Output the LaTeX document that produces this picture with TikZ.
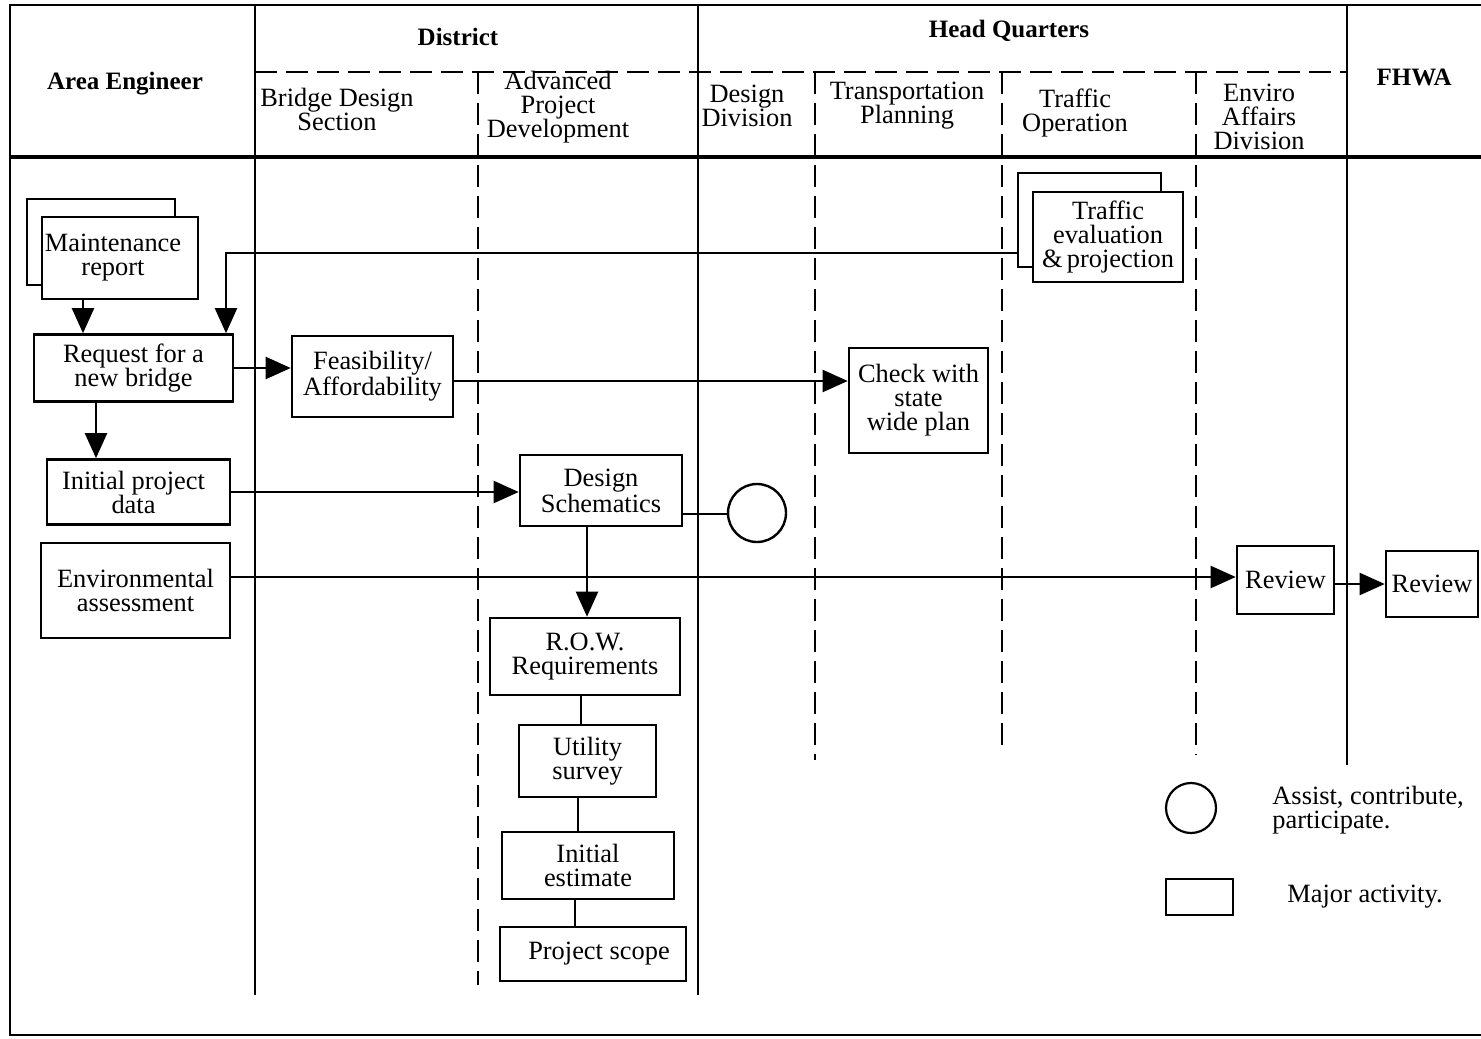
\documentclass[tikz,border=0pt]{standalone}
\usepackage{fontspec}
\setmainfont{Liberation Serif}
\usetikzlibrary{arrows.meta,calc}
\tikzset{
  box/.style={draw, line width=1.3pt, fill=white, align=center, inner sep=0pt},
  circ/.style={draw, circle, line width=1.2pt, fill=white, inner sep=0pt},
  arr/.style={line width=1.1pt, -{Triangle[length=12.5pt,width=11pt]}},
  con/.style={line width=1.1pt},
  solidcol/.style={line width=1.2pt},
  dashcol/.style={line width=1.2pt, dash pattern=on 11pt off 4.5pt},
  head/.style={font=\fontsize{12.5}{12}\selectfont\bfseries, align=center},
  sub/.style={align=center}
}
\begin{document}
\begin{tikzpicture}[x=0.5pt,y=-0.5pt, font=\fontsize{13.2}{12}\selectfont]
\useasboundingbox (0,0) rectangle (1481,1038);
% frame and lanes
\draw[line width=1.4pt] (1481,5) -- (10,5) -- (10,1035) -- (1481,1035);
\draw[line width=2.2pt] (10,157) -- (1481,157);
\draw[solidcol] (255,5) -- (255,995);
\draw[solidcol] (698,5) -- (698,995);
\draw[solidcol] (1347,5) -- (1347,765);
\draw[dashcol] (255,72) -- (1347,72);
\draw[dashcol] (478,72) -- (478,985);
\draw[dashcol] (815,72) -- (815,760);
\draw[dashcol] (1002,72) -- (1002,748);
\draw[dashcol] (1196,72) -- (1196,755);
% headers
\node[head] (hae) at (125,84) {Area Engineer};
\node[head] (hdist) at (458,37) {District};
\node[head] (hhq) at (1009,31) {Head Quarters};
\node[head] (hfhwa) at (1414,77) {FHWA};
\node[sub] (hbds) at (337,109) {Bridge Design\\Section};
\node[sub] (hapd) at (558,107) {Advanced\\Project\\Development};
\node[sub] (hdd) at (747,106) {Design\\Division};
\node[sub] (htp) at (907,106) {Transportation\\Planning};
\node[sub] (hto) at (1075,113) {Traffic\\Operation};
\node[sub] (hea) at (1259,117) {Enviro\\Affairs\\Division};
% helper coordinates
\coordinate (x83) at (83,0);
\coordinate (x96) at (96,0);
\coordinate (x226) at (226,0);
\coordinate (x587) at (587,0);
\coordinate (x581) at (581,0);
\coordinate (x578) at (578,0);
\coordinate (x575) at (575,0);
% nodes
\node[box, minimum width=74pt, minimum height=43pt] (maintback) at (101,242) {};
\node[box, minimum width=78pt, minimum height=41pt] (maint) at (120,258) {\hspace*{-7pt}Maintenance\\\hspace*{-7pt}report};
\node[box, minimum width=99.5pt, minimum height=33.5pt] (request) at (133.5,368) {Request for a\\new bridge};
\node[box, minimum width=91.5pt, minimum height=32.5pt] (initdata) at (138.5,492) {\hspace*{-5pt}Initial project\\\hspace*{-5pt}data};
\node[box, minimum width=94.5pt, minimum height=47.5pt] (env) at (135.5,590.5) {Environmental\\assessment};
\node[box, minimum width=80.5pt, minimum height=40.5pt] (feas) at (372.5,376.5) {Feasibility/\\Affordability};
\node[box, minimum width=69.5pt, minimum height=52.5pt] (check) at (918.5,400.5) {Check with\\state\\wide plan};
\node[box, minimum width=71.5pt, minimum height=47pt] (trafback) at (1089.5,220) {};
\node[box, minimum width=75pt, minimum height=45pt] (traf) at (1108,237) {Traffic\\evaluation\\\&\,projection};
\node[box, minimum width=81pt, minimum height=35.5pt] (design) at (601,490.5) {Design\\Schematics};
\node[circ, minimum size=29pt] (assist) at (757,513) {};
\node[box, minimum width=95pt, minimum height=38.5pt] (row) at (585,656.5) {R.O.W.\\Requirements};
\node[box, minimum width=68.5pt, minimum height=36pt] (util) at (587.5,761) {Utility\\survey};
\node[box, minimum width=86pt, minimum height=33.5pt] (est) at (588,865.5) {Initial\\estimate};
\node[box, minimum width=93pt, minimum height=27pt] (scope) at (593,954) {\hspace{6pt}Project scope};
\node[box, minimum width=48.5pt, minimum height=34pt] (rev1) at (1285.5,580) {Review};
\node[box, minimum width=46pt, minimum height=33pt] (rev2) at (1432,584) {Review};
% legend
\node[circ, minimum size=25pt, line width=1.1pt] (legcirc) at (1191,808) {};
\node[anchor=west, align=left, inner sep=0pt] (legtxt1) at (1272,810) {Assist, contribute,\\participate.};
\node[box, line width=1.1pt, minimum width=33.5pt, minimum height=18pt] (legbox) at (1199.5,897) {};
\node (legtxt2) at (1365,897) {Major activity.};
% connectors
\draw[arr] (maint.south -| x83) -- (request.north -| x83);
\draw[arr] ([yshift=-16.5pt]trafback.west) -| (request.north -| x226);
\draw[arr] (request.east) -- (request.east -| feas.west);
\draw[arr] (request.south -| x96) -- (initdata.north -| x96);
\draw[arr] ([yshift=-2.25pt]feas.east) -- ([yshift=-2.25pt]feas.east -| check.west);
\draw[arr] (initdata.east) -- (initdata.east -| design.west);
\draw[con] ([yshift=-11.75pt]design.east) -- ([yshift=-11.75pt]design.east -| assist.west);
\draw[arr] (design.south -| x587) -- (row.north -| x587);
\draw[arr] ([yshift=6.75pt]env.east) -- ([yshift=6.75pt]env.east -| rev1.west);
\draw[arr] ([yshift=-2pt]rev1.east) -- ([yshift=-2pt]rev1.east -| rev2.west);
\draw[con] (row.south -| x581) -- (util.north -| x581);
\draw[con] (util.south -| x578) -- (est.north -| x578);
\draw[con] (est.south -| x575) -- (scope.north -| x575);
\end{tikzpicture}
\end{document}
